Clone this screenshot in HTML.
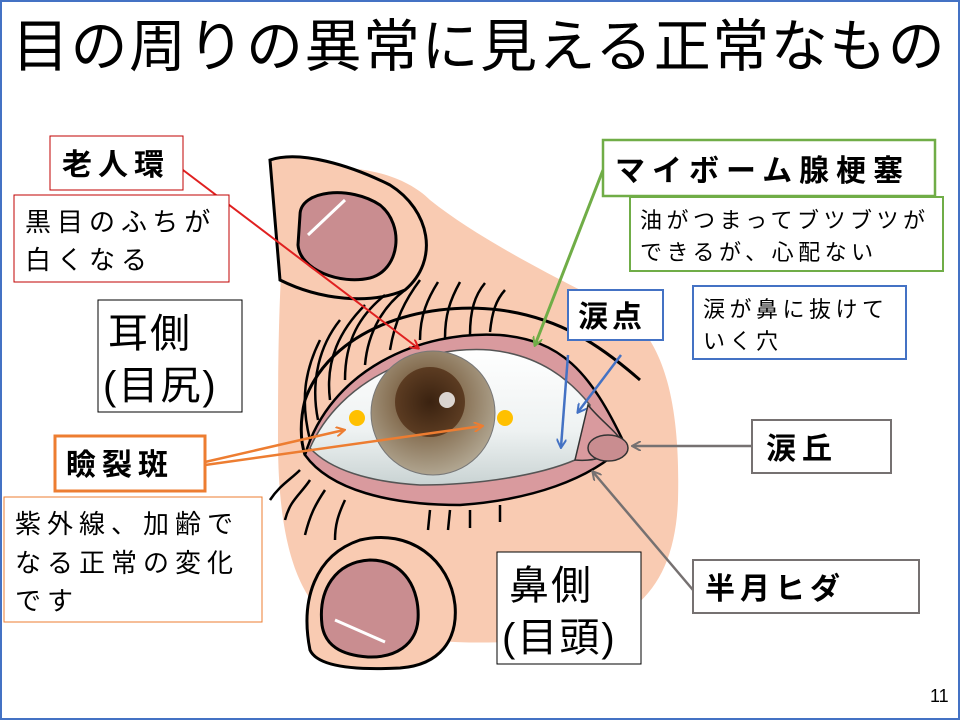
<!DOCTYPE html>
<html><head><meta charset="utf-8"><style>
body{margin:0;width:960px;height:720px;background:#fff;overflow:hidden;font-family:"Liberation Sans","Noto Sans CJK JP",sans-serif;}
svg text{font-family:"Liberation Sans","Noto Sans CJK JP",sans-serif;}
</style></head><body>
<svg width="960" height="720" viewBox="0 0 960 720" xmlns="http://www.w3.org/2000/svg">
<defs>
<marker id="ar" markerWidth="10" markerHeight="10" refX="8" refY="5" orient="auto" markerUnits="userSpaceOnUse"><path d="M0,0 L9,5 L0,10" fill="none" stroke="context-stroke" stroke-width="2"/></marker>
<radialGradient id="iris" cx="0.45" cy="0.4" r="0.6"><stop offset="0" stop-color="#5a3a20"/><stop offset="0.5" stop-color="#8a7458"/><stop offset="1" stop-color="#b0a590"/></radialGradient>
<radialGradient id="pup" cx="0.5" cy="0.5" r="0.5"><stop offset="0" stop-color="#3a2210"/><stop offset="1" stop-color="#5c3c22"/></radialGradient>
<linearGradient id="scl" x1="0" y1="0" x2="0" y2="1"><stop offset="0" stop-color="#fff"/><stop offset="0.6" stop-color="#eef2f2"/><stop offset="1" stop-color="#c9d3d3"/></linearGradient>
</defs>
<rect x="1" y="1" width="958" height="718" fill="#fff" stroke="#4472c4" stroke-width="2"/>
<text x="12" y="66" font-size="57" letter-spacing="1.5" fill="#000">目の周りの異常に見える正常なもの</text>

<!-- skin -->
<path d="M295,175 C340,160 400,170 430,200 C480,240 560,280 620,310 C670,340 680,420 678,500 C675,580 640,620 570,635 C500,648 400,645 330,620 C290,590 278,520 278,440 C278,360 278,220 295,175 Z" fill="#f9cbb2"/>

<!-- top finger -->
<path d="M270,160 C300,150 350,165 390,185 C430,210 440,260 405,290 C370,305 320,300 280,280 Z" fill="#f9cbb2" stroke="#000" stroke-width="3"/>
<path d="M300,215 C300,190 350,185 380,205 C405,225 400,270 370,278 C340,285 300,270 298,245 Z" fill="#c98d90" stroke="#000" stroke-width="3"/>
<path d="M308,235 L345,200" stroke="#fff" stroke-width="3"/>
<!-- bottom finger -->
<path d="M310,650 C300,600 315,555 360,540 C410,528 450,560 455,605 C458,640 440,665 400,668 C360,670 318,668 310,650 Z" fill="#f9cbb2" stroke="#000" stroke-width="3"/>
<path d="M322,625 C318,590 335,562 370,560 C405,560 420,590 418,620 C416,645 395,658 368,657 C340,655 325,645 322,625 Z" fill="#c98d90" stroke="#000" stroke-width="3"/>
<path d="M335,620 L385,642" stroke="#fff" stroke-width="3"/>

<!-- lashes -->
<g stroke="#000" stroke-width="2.5" fill="none">
<path d="M310,440 C300,400 305,370 320,340"/><path d="M318,420 C310,380 320,345 340,320"/>
<path d="M330,400 C325,360 340,330 365,305"/><path d="M345,380 C345,340 360,315 385,295"/>
<path d="M365,365 C368,330 385,305 405,290"/><path d="M390,350 C395,320 405,300 420,280"/>
<path d="M420,340 C420,315 428,298 438,282"/><path d="M445,338 C445,315 450,300 460,282"/>
<path d="M470,335 C470,310 475,295 485,283"/><path d="M490,332 C492,312 496,300 505,290"/>
<path d="M300,470 C290,480 280,485 270,500"/><path d="M310,480 C300,495 290,500 285,520"/>
<path d="M325,490 C315,505 310,515 305,535"/><path d="M345,500 C338,515 335,525 335,540"/>
<path d="M430,510 L428,530"/><path d="M450,510 L448,530"/><path d="M470,510 L470,528"/><path d="M500,505 L500,522"/>
<path d="M305,455 C300,440 300,420 305,400 C330,330 420,300 500,310 C560,318 600,345 640,380" stroke-width="3"/>
</g>
<!-- lid rim -->
<path d="M305,455 C330,370 420,330 500,335 C560,340 590,370 625,445 C590,480 530,500 460,505 C390,505 330,490 305,455 Z" fill="#d99a9e" stroke="#000" stroke-width="2.5"/>
<!-- sclera -->
<path d="M310,448 C340,380 420,345 490,350 C540,355 570,380 590,405 C585,430 578,452 575,460 C540,475 480,485 420,485 C370,482 330,470 310,448 Z" fill="url(#scl)" stroke="#555" stroke-width="1.5"/>
<path d="M588,405 C600,420 615,430 625,445 C615,455 595,462 575,460 Z" fill="#d99a9e" stroke="#333" stroke-width="1.5"/>
<ellipse cx="608" cy="448" rx="20" ry="13" fill="#c98d90" stroke="#333" stroke-width="1.5"/>
<circle cx="433" cy="413" r="62" fill="url(#iris)" stroke="#777" stroke-width="1"/>
<circle cx="430" cy="402" r="35" fill="url(#pup)"/>
<circle cx="447" cy="400" r="8" fill="#fff" opacity="0.8"/>
<circle cx="357" cy="418" r="8" fill="#ffc000"/>
<circle cx="505" cy="418" r="8" fill="#ffc000"/>

<!-- arrows -->
<g fill="none" stroke-width="2">
<line x1="183" y1="170" x2="418" y2="348" stroke="#e02020" marker-end="url(#ar)"/>
<line x1="603" y1="170" x2="535" y2="345" stroke="#70ad47" stroke-width="3" marker-end="url(#ar)"/>
<line x1="568" y1="355" x2="561" y2="447" stroke="#4472c4" stroke-width="2.5" marker-end="url(#ar)"/>
<line x1="621" y1="355" x2="578" y2="412" stroke="#4472c4" stroke-width="2.5" marker-end="url(#ar)"/>
<line x1="205" y1="462" x2="344" y2="430" stroke="#ed7d31" stroke-width="2.5" marker-end="url(#ar)"/>
<line x1="205" y1="465" x2="482" y2="426" stroke="#ed7d31" stroke-width="2.5" marker-end="url(#ar)"/>
<line x1="752" y1="446" x2="633" y2="446" stroke="#767171" stroke-width="2.5" marker-end="url(#ar)"/>
<line x1="693" y1="590" x2="593" y2="472" stroke="#767171" stroke-width="2.5" marker-end="url(#ar)"/>
</g>

<!-- boxes -->
<g font-size="30" font-weight="bold" letter-spacing="6">
<rect x="50" y="136" width="133" height="54" fill="#fff" stroke="#c00000" stroke-width="1"/><text x="62" y="175">老人環</text>
<rect x="55" y="436" width="150" height="55" fill="#fff" stroke="#ed7d31" stroke-width="3"/><text x="66" y="475">瞼裂斑</text>
<rect x="603" y="140" width="332" height="56" fill="#fff" stroke="#70ad47" stroke-width="2.5"/><text x="615" y="181" letter-spacing="7">マイボーム腺梗塞</text>
<rect x="568" y="290" width="95" height="50" fill="#fff" stroke="#4472c4" stroke-width="2"/><text x="578" y="327" letter-spacing="4">涙点</text>
<rect x="752" y="420" width="139" height="53" fill="#fff" stroke="#767171" stroke-width="2"/><text x="766" y="459" letter-spacing="6">涙丘</text>
<rect x="693" y="560" width="226" height="53" fill="#fff" stroke="#767171" stroke-width="2"/><text x="705" y="599" letter-spacing="5">半月ヒダ</text>
</g>
<g font-size="26" letter-spacing="6">
<rect x="14" y="195" width="215" height="87" fill="#fff" stroke="#c00000" stroke-width="1"/><text x="25" y="231">黒目のふちが</text><text x="25" y="269">白くなる</text>
<rect x="4" y="497" width="258" height="125" fill="#fff" stroke="#ed7d31" stroke-width="1"/><text x="15" y="533">紫外線、加齢で</text><text x="15" y="572">なる正常の変化</text><text x="15" y="610">です</text>
</g>
<g font-size="22" letter-spacing="4.5">
<rect x="630" y="197" width="313" height="74" fill="#fff" stroke="#70ad47" stroke-width="2"/><text x="640" y="228">油がつまってブツブツが</text><text x="640" y="260">できるが、心配ない</text>
<rect x="693" y="286" width="213" height="73" fill="#fff" stroke="#4472c4" stroke-width="2"/><text x="703" y="317">涙が鼻に抜けて</text><text x="703" y="349">いく穴</text>
</g>
<g font-size="40" letter-spacing="2">
<rect x="98" y="300" width="144" height="112" fill="#fff" stroke="#000" stroke-width="1"/><text x="108" y="347">耳側</text><text x="103" y="399">(目尻)</text>
<rect x="497" y="552" width="144" height="112" fill="#fff" stroke="#000" stroke-width="1"/><text x="509" y="599">鼻側</text><text x="502" y="651">(目頭)</text>
</g>
<text x="930" y="702" font-size="18">11</text>
</svg>
</body></html>
